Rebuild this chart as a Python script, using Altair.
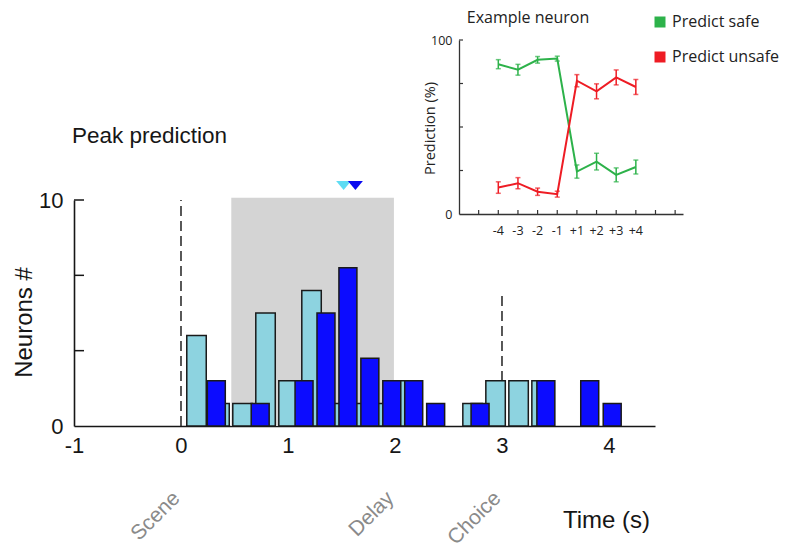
import altair as alt
import pandas as pd

# ---------------- data: main histogram ----------------
light_t = [0.145, 0.36, 0.575, 0.79, 1.005, 1.22, 1.435, 1.65, 1.865, 2.08, 2.725, 2.94, 3.155, 3.37]
light_n = [4, 1, 1, 5, 2, 6, 1, 1, 1, 2, 1, 2, 2, 2]
dark_t = [0.33, 0.74, 1.15, 1.355, 1.56, 1.765, 1.97, 2.175, 2.38, 2.795, 3.41, 3.82, 4.03]
dark_n = [2, 1, 2, 5, 7, 3, 2, 2, 1, 1, 2, 2, 1]
light_w = 0.182
dark_w = 0.168

shade_window = [0.47, 1.99]
shade_top = 10.1
event_t = [0, 3]
event_top = [10, 5.9]
stage_names = ["Scene", "Delay", "Choice"]
stage_t = [0, 2, 3]
peak_t = [1.52, 1.63]
peak_colors = ["#5fdcf3", "#0a0af0"]
x_ticks = [-1, 0, 1, 2, 3, 4]
y_labels = [0, 10]
y_minor = [10 / 3, 20 / 3, 10]
main_title = ["Peak prediction"]

# ---------------- data: inset ----------------
offsets = ["-4", "-3", "-2", "-1", "+1", "+2", "+3", "+4"]
series = ["Predict safe", "Predict unsafe"]
safe = [86.1, 82.9, 88.6, 89.3, 24.4, 30.1, 22.5, 27.0]
safe_err = [2.6, 3.1, 1.9, 1.4, 3.8, 4.8, 4.0, 4.0]
unsafe = [15.2, 17.7, 12.8, 11.4, 76.6, 70.5, 78.5, 73.0]
unsafe_err = [3.3, 3.2, 2.1, 1.7, 3.5, 4.3, 4.3, 4.3]
inset_xticks = list(range(0, 11))
inset_yticks = [25, 50, 75, 100]
inset_title = ["Example neuron"]

FONT = "Liberation Sans"
IFONT = "Open Sans"
BLACK = "#161616"
GREEN = "#2db24a"
RED = "#ee1c24"
LIGHT = "#8dd3e0"
DARK = "#0c0cff"

# ---------------- main panel ----------------
XM = alt.Scale(domain=[-1, 4.43], nice=False, zero=False)
YM = alt.Scale(domain=[0, 10], nice=False, zero=False)
AXM_X = alt.Axis(
    values=x_ticks, labelExpr="'' + datum.value", ticks=False, grid=False,
    labelFont=FONT, labelFontSize=22, labelColor=BLACK, labelPadding=9,
    labelFlush=False, labelOverlap=False,
    domainColor=BLACK, domainWidth=1.6,
    title="Time (s)", titleFont=FONT, titleFontSize=24, titleFontWeight="normal",
    titleColor=BLACK, titleX=532, titleY=94, titleAlign="center", titleBaseline="middle")
AXM_Y = alt.Axis(
    values=y_labels, format="d", ticks=False, grid=False,
    labelFont=FONT, labelFontSize=22, labelColor=BLACK, labelPadding=11,
    labelOverlap=False,
    domainColor=BLACK, domainWidth=1.6,
    title="Neurons #", titleFont=FONT, titleFontSize=24, titleFontWeight="normal",
    titleColor=BLACK, titleX=-50, titleY=122, titleAngle=270,
    titleAlign="center", titleBaseline="middle")


def mx(field):
    return alt.X(field, scale=XM, axis=AXM_X)


def my(field):
    return alt.Y(field, scale=YM, axis=AXM_Y)


shade_df = pd.DataFrame({"t0": [shade_window[0]], "t1": [shade_window[1]], "n0": [0], "n1": [shade_top]})
shade = alt.Chart(shade_df).mark_rect(color="#d4d4d4").encode(
    x=mx("t0:Q"), x2="t1:Q", y=my("n0:Q"), y2="n1:Q")

dash_df = pd.DataFrame({"t": event_t, "top": event_top, "n0": [0] * len(event_t)})
dashes = alt.Chart(dash_df).mark_rule(color="#222222", strokeWidth=1.5, strokeDash=[10, 5]).encode(
    x=mx("t:Q"), y=my("n0:Q"), y2="top:Q")

light_df = pd.DataFrame({
    "l": [t - light_w / 2 for t in light_t],
    "r": [t + light_w / 2 for t in light_t],
    "n": light_n, "n0": [0] * len(light_t)})
dark_df = pd.DataFrame({
    "l": [t - dark_w / 2 for t in dark_t],
    "r": [t + dark_w / 2 for t in dark_t],
    "n": dark_n, "n0": [0] * len(dark_t)})


def bars(df, color):
    return alt.Chart(df).mark_rect(fill=color, stroke="#1a1a1a", strokeWidth=1.5).encode(
        x=mx("l:Q"), x2="r:Q", y=my("n0:Q"), y2="n:Q")


light_bars = bars(light_df, LIGHT)
dark_bars = bars(dark_df, DARK)

ytick_df = pd.DataFrame({"v": y_minor})
yticks = alt.Chart(ytick_df).mark_rule(color=BLACK, strokeWidth=1.5).encode(
    y=my("v:Q"), x=alt.value(0), x2=alt.value(10))

peak_df = pd.DataFrame({"t": peak_t, "c": peak_colors})
peaks = alt.Chart(peak_df).mark_point(
    shape="M-1,-0.55L1,-0.55L0,0.65Z", filled=True, size=225, opacity=1, strokeWidth=0
).encode(x=mx("t:Q"), y=alt.value(-15), fill=alt.Fill("c:N", scale=None))

stage_df = pd.DataFrame({"t": stage_t, "name": stage_names})
stages = alt.Chart(stage_df).mark_text(
    align="right", baseline="middle", angle=315, dx=-6, font=FONT, fontSize=21, color="#8a8a8a"
).encode(x=mx("t:Q"), y=alt.value(291), text="name:N")

title_df = pd.DataFrame({"label": main_title})
title_txt = alt.Chart(title_df).mark_text(
    align="left", baseline="alphabetic", font=FONT, fontSize=22.5, color=BLACK
).encode(x=alt.value(-2), y=alt.value(-57), text="label:N")

main = alt.layer(shade, dashes, light_bars, dark_bars, yticks, peaks, stages, title_txt)

# ---------------- inset ----------------
XI = alt.Scale(domain=[-1, 10.4], range=[385, 609], nice=False, zero=False)
YI = alt.Scale(domain=[0, 100], range=[14, -160], nice=False, zero=False)
CI = alt.Scale(domain=series, range=[GREEN, RED])
AXI_X = alt.Axis(
    orient="bottom", offset=-212, labels=False, ticks=False, grid=False,
    domainColor="#333333", domainWidth=1.3, title="")
AXI_Y = alt.Axis(
    orient="left", offset=-385, values=[0, 100], format="d", ticks=False,
    grid=False, labelFont=IFONT, labelFontSize=12.5, labelColor="#222222",
    labelPadding=7, labelOverlap=False,
    domainColor="#333333", domainWidth=1.3,
    title="Prediction (%)", titleFont=IFONT, titleFontSize=14.5, titleFontWeight="normal",
    titleColor="#222222", titleX=-29, titleY=-72, titleAngle=270,
    titleAlign="center", titleBaseline="middle")


def ix(field):
    return alt.X(field, scale=XI, axis=AXI_X)


def iy(field):
    return alt.Y(field, scale=YI, axis=AXI_Y)


def icolor():
    return alt.Color("series:N", scale=CI, legend=None)


rows = []
for i, lab in enumerate(offsets):
    rows.append({"pos": i + 1, "series": series[0], "value": safe[i], "err": safe_err[i]})
    rows.append({"pos": i + 1, "series": series[1], "value": unsafe[i], "err": unsafe_err[i]})
ins_df = pd.DataFrame(rows)
ins_df["lo"] = ins_df["value"] - ins_df["err"]
ins_df["hi"] = ins_df["value"] + ins_df["err"]
caps_df = pd.concat([
    ins_df[["pos", "series"]].assign(v=ins_df["lo"]),
    ins_df[["pos", "series"]].assign(v=ins_df["hi"]),
], ignore_index=True)

lines = alt.Chart(ins_df).mark_line(strokeWidth=2).encode(
    x=ix("pos:Q"), y=iy("value:Q"), color=icolor())
err_rules = alt.Chart(ins_df).mark_rule(strokeWidth=1.5).encode(
    x=ix("pos:Q"), y=iy("lo:Q"), y2="hi:Q", color=icolor())
err_caps = alt.Chart(caps_df).mark_tick(orient="horizontal", size=5, thickness=1.5).encode(
    x=ix("pos:Q"), y=iy("v:Q"), color=icolor())

legend_pts = alt.Chart(ins_df).mark_square(filled=True).encode(
    x=ix("pos:Q"), y=iy("value:Q"),
    opacity=alt.value(0),
    fill=alt.Fill("series:N", scale=alt.Scale(domain=series, range=[GREEN, RED]), legend=alt.Legend(
        orient="none", legendX=578, legendY=-186, direction="vertical", title=None,
        symbolType="square", symbolSize=121, symbolStrokeWidth=0, symbolOpacity=1,
        labelFont=IFONT, labelFontSize=16, labelColor="#222222", labelOffset=4,
        rowPadding=19, padding=0, offset=0)),
)

xlab_df = pd.DataFrame({"pos": list(range(1, len(offsets) + 1)), "lab": offsets})
ins_xlabels = alt.Chart(xlab_df).mark_text(
    align="center", baseline="middle", font=IFONT, fontSize=12.5, color="#222222"
).encode(x=ix("pos:Q"), y=alt.value(31), text="lab:N")

xt_df = pd.DataFrame({"k": inset_xticks})
ins_xticks = alt.Chart(xt_df).mark_rule(color="#333333", strokeWidth=1.2).encode(
    x=ix("k:Q"), y=alt.value(14), y2=alt.value(10))
yt_df = pd.DataFrame({"v": inset_yticks})
ins_yticks = alt.Chart(yt_df).mark_rule(color="#333333", strokeWidth=1.2).encode(
    y=iy("v:Q"), x=alt.value(385), x2=alt.value(389))

ititle_df = pd.DataFrame({"label": inset_title})
ins_title = alt.Chart(ititle_df).mark_text(
    align="center", baseline="middle", font=IFONT, fontSize=16, color="#222222"
).encode(x=alt.value(454), y=alt.value(-182), text="label:N")

inset = alt.layer(lines, err_rules, err_caps, legend_pts, ins_xlabels, ins_xticks, ins_yticks, ins_title)

chart = alt.layer(main, inset).resolve_scale(x="independent", y="independent").properties(
    width=581, height=226,
    padding={"left": 66, "top": 192, "right": 124, "bottom": 118},
    autosize=alt.AutoSizeParams(type="none"),
).configure(font=FONT).configure_view(stroke=None, strokeWidth=0)

chart.save("out.html", embed_options={"renderer": "svg", "actions": False})
